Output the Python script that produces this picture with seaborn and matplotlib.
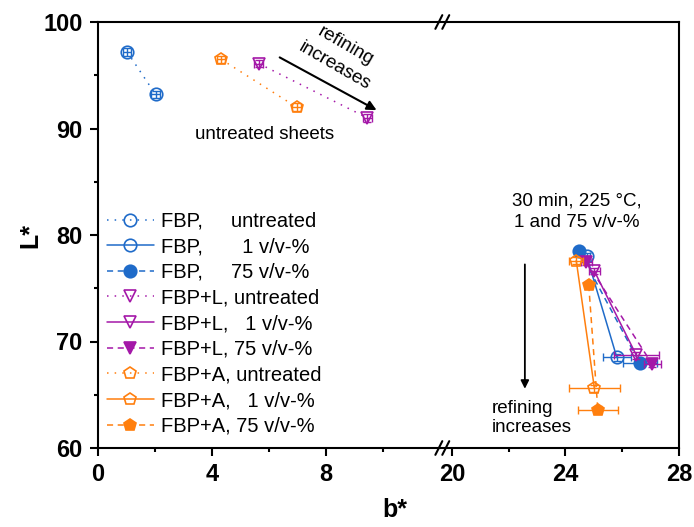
import numpy as np
import pandas as pd
import matplotlib.pyplot as plt
import seaborn as sns
from matplotlib.lines import Line2D

# untreated sheets (left part of the broken axis)
fbp_untr_b = [1.02, 2.02]
fbp_untr_L = [97.2, 93.2]
fbpl_untr_b = [5.64, 9.45]
fbpl_untr_L = [96.1, 91.0]
fbpa_untr_b = [4.32, 6.97]
fbpa_untr_L = [96.5, 92.0]

# treated sheets, 30 min 225 C (right part)
fbp_1_b = [24.75, 25.81]
fbp_1_L = [78.0, 68.5]
fbp_1_err = [0.12, 0.5]
fbp_75_b = [24.49, 26.61]
fbp_75_L = [78.5, 68.0]
fbp_75_err = [0.12, 0.6]
fbpl_1_b = [25.02, 26.5]
fbpl_1_L = [76.6, 68.7]
fbpl_1_err = [0.2, 0.8]
fbpl_75_b = [24.73, 27.05]
fbpl_75_L = [77.5, 67.9]
fbpl_75_err = [0.2, 0.3]
fbpa_1_b = [24.38, 25.02]
fbpa_1_L = [77.6, 65.6]
fbpa_1_err = [0.25, 0.9]
fbpa_75_b = [24.82, 25.14]
fbpa_75_L = [75.3, 63.6]
fbpa_75_err = [0.1, 0.7]

blue = "#1f6bc9"
magenta = "#a418a8"
orange = "#ff7f0e"

sns.set_style("ticks")
plt.rcParams["font.family"] = ["Liberation Sans", "DejaVu Sans"]
plt.rcParams["axes.linewidth"] = 1.5
for k in ("text.color", "axes.labelcolor", "xtick.color", "ytick.color",
          "axes.edgecolor"):
    plt.rcParams[k] = "black"

fig = plt.figure(figsize=(6.94, 5.27), dpi=100)
bot = 1 - 448 / 527
hgt = 426 / 527
axl = fig.add_axes([98 / 694, bot, 342 / 694, hgt])
axr = fig.add_axes([440 / 694, bot, 239 / 694, hgt])

dot = (0, (1, 4))
dash = (0, (4, 3))


def series(ax, b, L, col, mk, ls, filled, lab, err=None):
    mfc = col if filled else "none"
    df = pd.DataFrame({"b": b, "L": L})
    sns.lineplot(data=df, x="b", y="L", ax=ax, sort=False, estimator=None,
                 color=col, marker=mk, markersize=9, mfc=mfc, mec=col, mew=1.2,
                 linestyle=ls, lw=1.1, label=lab)
    if err is None:
        xe = 0.15
        ye = 0.35
    else:
        xe = err
        ye = 0.3
    ax.errorbar(b, L, xerr=xe, yerr=ye, fmt="none", ecolor=col, elinewidth=1,
                capsize=3, capthick=1)


series(axl, fbp_untr_b, fbp_untr_L, blue, "o", dot, False, "FBP,     untreated")
series(axl, fbpl_untr_b, fbpl_untr_L, magenta, "v", dot, False, "FBP+L, untreated")
series(axl, fbpa_untr_b, fbpa_untr_L, orange, "p", dot, False, "FBP+A, untreated")

series(axr, fbp_1_b, fbp_1_L, blue, "o", "-", False, "FBP,       1 v/v-%", fbp_1_err)
series(axr, fbp_75_b, fbp_75_L, blue, "o", dash, True, "FBP,     75 v/v-%", fbp_75_err)
series(axr, fbpl_1_b, fbpl_1_L, magenta, "v", "-", False, "FBP+L,   1 v/v-%", fbpl_1_err)
series(axr, fbpl_75_b, fbpl_75_L, magenta, "v", dash, True, "FBP+L, 75 v/v-%", fbpl_75_err)
series(axr, fbpa_1_b, fbpa_1_L, orange, "p", "-", False, "FBP+A,   1 v/v-%", fbpa_1_err)
series(axr, fbpa_75_b, fbpa_75_L, orange, "p", dash, True, "FBP+A, 75 v/v-%", fbpa_75_err)

# axes limits / ticks
axl.set_xlim(0, 12)
axl.set_xticks([0, 4, 8])
axl.set_xticks([2, 6, 10], minor=True)
axl.set_yticks([60, 70, 80, 90, 100])
axl.set_yticks([65, 75, 85, 95], minor=True)
axl.spines["right"].set_visible(False)

axr.set_xlim(19.58, 28)
axr.set_xticks([20, 24, 28])
axr.set_xticks([22, 26], minor=True)
axr.spines["left"].set_visible(False)

for ax in (axl, axr):
    ax.set_ylim(60, 100)
    ax.set_xlabel("")
    ax.set_ylabel("")
    ax.tick_params(which="major", direction="out", length=6, width=1.5, pad=5,
                   labelsize=17)
    ax.tick_params(which="minor", direction="out", length=3, width=1.5)
axr.tick_params(axis="y", which="both", left=False, labelleft=False)
for t in axl.get_xticklabels() + axl.get_yticklabels() + axr.get_xticklabels():
    t.set_fontweight("bold")

# break marks
xb = 443 / 694
for yb in (1 - 22 / 527, bot):
    for dx in (-0.006, 0.004):
        fig.add_artist(Line2D([xb + dx - 0.005, xb + dx + 0.005],
                              [yb - 0.013, yb + 0.013], color="black", lw=1.5))

fig.text(30 / 694, 1 - 235 / 527, "L*", rotation=90, fontsize=18,
         fontweight="bold", ha="center", va="center")
fig.text(395 / 694, 1 - 510 / 527, "b*", fontsize=18, fontweight="bold",
         ha="center", va="center")

# annotations
axl.annotate("", xy=(9.86, 91.6), xytext=(6.29, 96.8),
             arrowprops=dict(arrowstyle="-|>", color="black", lw=1.5,
                             mutation_scale=14))
axl.text(8.5, 96.8, "refining\nincreases", rotation=-30, fontsize=13.5,
         ha="center", va="center", rotation_mode="anchor", linespacing=1.45)
axl.text(5.86, 89.4, "untreated sheets", fontsize=13.5, ha="center", va="center")

axr.text(24.39, 82.2, "30 min, 225 \u00b0C,\n1 and 75 v/v-%", fontsize=13.5,
         ha="center", va="center", linespacing=1.35)
axr.annotate("", xy=(22.57, 65.3), xytext=(22.57, 77.5),
             arrowprops=dict(arrowstyle="-|>", color="black", lw=1.3,
                             mutation_scale=12))
axr.text(21.42, 62.8, "refining\nincreases", fontsize=13.5, ha="left",
         va="center", linespacing=1.2)

# legend in the original order
order = ["FBP,     untreated", "FBP,       1 v/v-%", "FBP,     75 v/v-%",
         "FBP+L, untreated", "FBP+L,   1 v/v-%", "FBP+L, 75 v/v-%",
         "FBP+A, untreated", "FBP+A,   1 v/v-%", "FBP+A, 75 v/v-%"]
hl, ll = axl.get_legend_handles_labels()
hr, lr = axr.get_legend_handles_labels()
lookup = dict(zip(ll + lr, hl + hr))
if axr.get_legend() is not None:
    axr.get_legend().remove()
axl.legend([lookup[k] for k in order], order, loc="upper left",
           bbox_to_anchor=(0.025, 0.555), frameon=False, fontsize=14.5,
           handlelength=2.35, handletextpad=0.35, labelspacing=0.33,
           borderaxespad=0, borderpad=0)

fig.savefig("out.png", dpi=100)
